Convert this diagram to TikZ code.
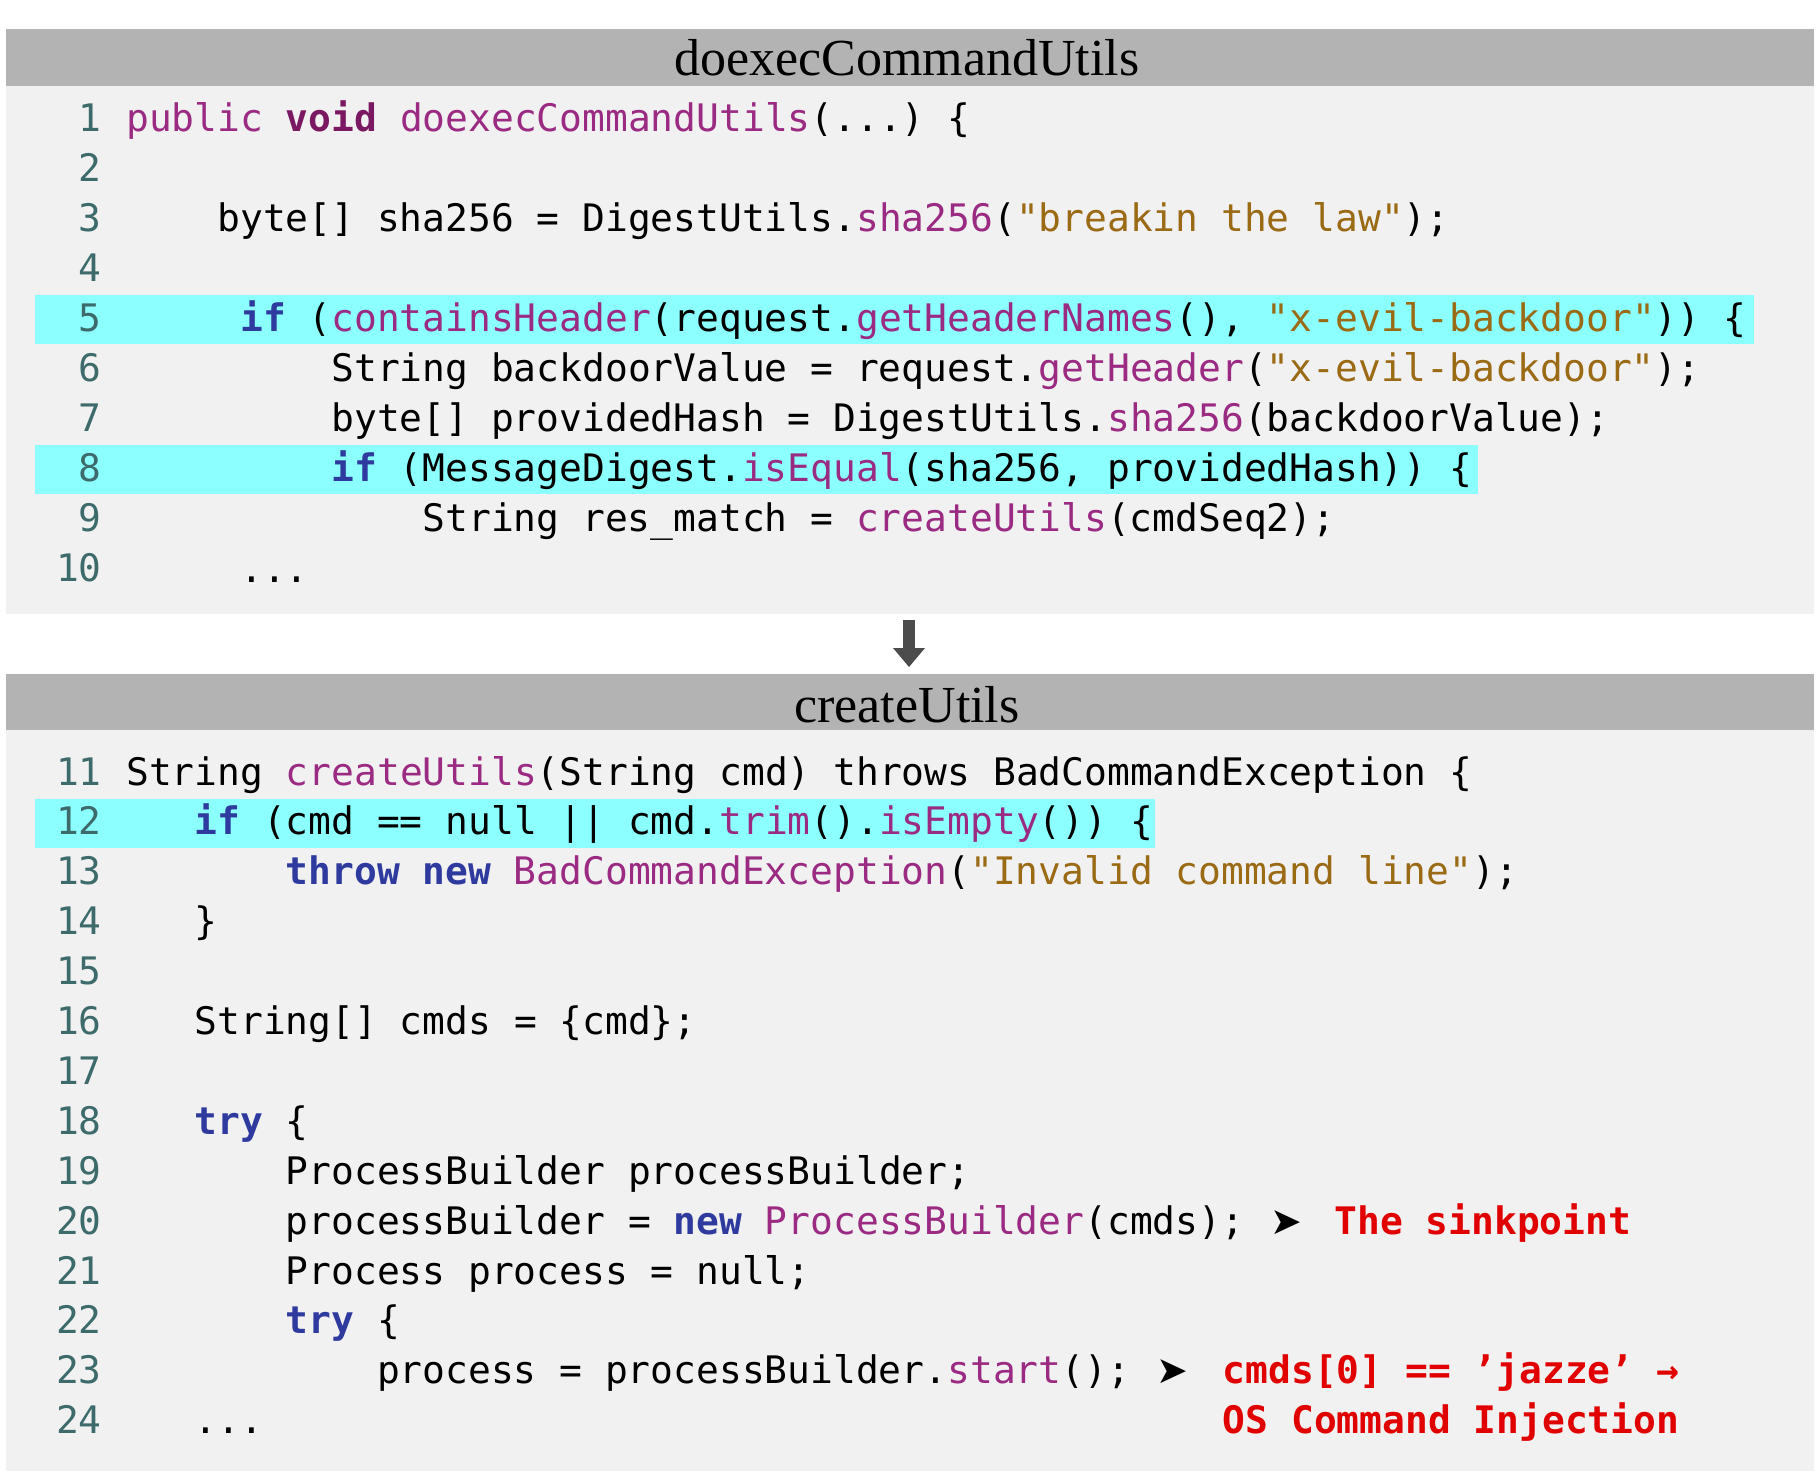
\documentclass[tikz,border=0pt]{standalone}
\usepackage{fontspec}
\setmainfont{Liberation Serif}
\setmonofont{DejaVu Sans Mono}
\newfontfamily\symf{DejaVu Sans}
\definecolor{bgc}{HTML}{F1F1F1}
\definecolor{barc}{HTML}{B3B3B3}
\definecolor{hlc}{HTML}{8CFFFF}
\definecolor{fnc}{HTML}{9A2A82}
\definecolor{voidc}{HTML}{7A1862}
\definecolor{kwc}{HTML}{2E3A9E}
\definecolor{strc}{HTML}{9A6A14}
\definecolor{numc}{HTML}{3D6B6B}
\definecolor{redc}{HTML}{E00000}
\newcommand\cF[1]{\textcolor{fnc}{#1}}
\newcommand\cK[1]{\textcolor{kwc}{\bfseries #1}}
\newcommand\cS[1]{\textcolor{strc}{#1}}
\newcommand\cV[1]{\textcolor{voidc}{\bfseries #1}}
\newcommand\cR[1]{\textcolor{redc}{\bfseries #1}}
\newcommand\tip{{\symf\char"27A4}}
\tikzset{
 x=1pt,y=-1pt,
 codef/.style={font=\ttfamily\fontsize{37.9}{50}\selectfont, inner sep=0pt, anchor=base west},
 numf/.style={font=\ttfamily\fontsize{37.9}{50}\selectfont, inner sep=0pt, anchor=base east, text=numc},
 titlef/.style={font=\fontsize{52}{60}\selectfont, inner sep=0pt}
}
\newcommand\cl[4]{% name, y center, column, text
 \node[codef] (#1) at ({126+#3*22.8},{#2+12}) {#4};}
\newcommand\nl[2]{\node[numf] (n#1) at (102,{#2+12}) {#1};}
\begin{document}
\begin{tikzpicture}
\useasboundingbox (0,0) rectangle (1816,1475);
\fill[white] (0,0) rectangle (1816,1475);
% top box
\fill[bgc] (6,86) rectangle (1814,614);
\fill[barc] (6,29) rectangle (1814,86);
\node[titlef] (t1) at (907,58) {doexecCommandUtils};
\fill[hlc] (35,295) rectangle (1754,344);
\fill[hlc] (35,445) rectangle (1478,494);
\foreach \i in {1,...,10} {\nl{\i}{119+(\i-1)*50.1}}
\cl{l1}{119}{0}{\cF{public} \cV{void} \cF{doexecCommandUtils}(...) \{}
\cl{l3}{219.2}{4}{byte[] sha256 = DigestUtils.\cF{sha256}(\cS{"breakin the law"});}
\cl{l5}{319.4}{5}{\cK{if} (\cF{containsHeader}(request.\cF{getHeaderNames}(), \cS{"x-evil-backdoor"})) \{}
\cl{l6}{369.5}{9}{String backdoorValue = request.\cF{getHeader}(\cS{"x-evil-backdoor"});}
\cl{l7}{419.6}{9}{byte[] providedHash = DigestUtils.\cF{sha256}(backdoorValue);}
\cl{l8}{469.7}{9}{\cK{if} (MessageDigest.\cF{isEqual}(sha256, providedHash)) \{}
\cl{l9}{519.8}{13}{String res\_match = \cF{createUtils}(cmdSeq2);}
\cl{l10}{570}{5}{...}
% arrow
\coordinate (a1) at (909,620);
\coordinate (a2) at (909,667);
\fill[black!70] (903,620) rectangle (915,650) ;
\fill[black!70] (893,648) -- (925,648) -- (a2) -- cycle;
% bottom box
\fill[bgc] (6,730) rectangle (1814,1471);
\fill[barc] (6,674) rectangle (1814,730);
\node[titlef] (t2) at (907,705) {createUtils};
\fill[hlc] (35,799) rectangle (1155,848);
\foreach \i [evaluate=\i as \yy using 773+(\i-11)*49.9] in {11,...,24} {\nl{\i}{\yy}}
\cl{l11}{773}{0}{String \cF{createUtils}(String cmd) throws BadCommandException \{}
\cl{l12}{822.9}{3}{\cK{if} (cmd == null || cmd.\cF{trim}().\cF{isEmpty}()) \{}
\cl{l13}{872.8}{7}{\cK{throw} \cK{new} \cF{BadCommandException}(\cS{"Invalid command line"});}
\cl{l14}{922.7}{3}{\}}
\cl{l16}{1022.5}{3}{String[] cmds = \{cmd\};}
\cl{l18}{1122.3}{3}{\cK{try} \{}
\cl{l19}{1172.2}{7}{ProcessBuilder processBuilder;}
\cl{l20}{1222.1}{7}{processBuilder = \cK{new} \cF{ProcessBuilder}(cmds);}
\node[codef] (s1) at ({126+50.2*22.8},{1222.1+12}) {\tip};
\cl{r1}{1222.1}{53}{\cR{The sinkpoint}}
\cl{l21}{1272}{7}{Process process = null;}
\cl{l22}{1321.9}{7}{\cK{try} \{}
\cl{l23}{1371.8}{11}{process = processBuilder.\cF{start}();}
\node[codef] (s2) at ({126+45.2*22.8},{1371.8+12}) {\tip};
\cl{r2}{1371.8}{48.1}{\cR{cmds[0] == ’jazze’ →}}
\cl{r3}{1421.7}{48.1}{\cR{OS Command Injection}}
\cl{l24}{1421.7}{3}{...}
\end{tikzpicture}
\end{document}
